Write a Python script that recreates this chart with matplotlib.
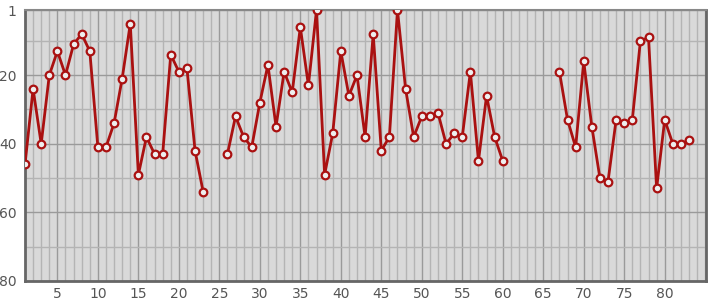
import numpy as np
import matplotlib
matplotlib.use('Agg')
import matplotlib.pyplot as plt

nan = np.nan
x = np.arange(1, 84)
ranks = [46, 24, 40, 20, 13, 20, 11, 8, 13, 41,
         41, 34, 21, 5, 49, 38, 43, 43, 14, 19,
         18, 42, 54, nan, nan, 43, 32, 38, 41, 28,
         17, 35, 19, 25, 6, 23, 1, 49, 37, 13,
         26, 20, 38, 8, 42, 38, 1, 24, 38, 32,
         32, 31, 40, 37, 38, 19, 45, 26, 38, 45,
         nan, nan, nan, nan, nan, nan, 19, 33, 41, 16,
         35, 50, 51, 33, 34, 33, 10, 9, 53, 33,
         40, 40, 39]
xticks = [5, 10, 15, 20, 25, 30, 35, 40, 45, 50, 55, 60, 65, 70, 75, 80]
yticks = [1, 20, 40, 60, 80]

fig = plt.figure(figsize=(7.15, 3.0), dpi=100)
ax = fig.add_axes([25 / 715, 1 - 281 / 300, 681 / 715, 271 / 300])
ax.set_facecolor('#d9d9d9')

ax.plot(x, ranks, color='#aa1111', lw=2, marker='o', ms=5.5,
        mfc='#eeeeee', mec='#aa1111', mew=1.6, zorder=3)

ax.set_xlim(1, 85.1)
ax.set_ylim(80, 1)
ax.set_xticks(xticks)
ax.set_yticks(yticks)
ax.set_xticks(np.arange(1, 86), minor=True)
ax.set_yticks([10, 30, 50, 70], minor=True)
ax.grid(which='major', color='#9a9a9a', lw=1)
ax.grid(which='minor', color='#b4b4b4', lw=1)
ax.set_axisbelow(True)
ax.tick_params(which='both', length=0, colors='#555555', labelsize=10, pad=4)
ax.tick_params(axis='y', pad=6)

for side in ['left', 'bottom', 'right']:
    ax.spines[side].set_color('#666666')
    ax.spines[side].set_linewidth(2)
ax.spines['top'].set_color('#888888')
ax.spines['top'].set_linewidth(1.5)

fig.savefig('out.png', dpi=100)
